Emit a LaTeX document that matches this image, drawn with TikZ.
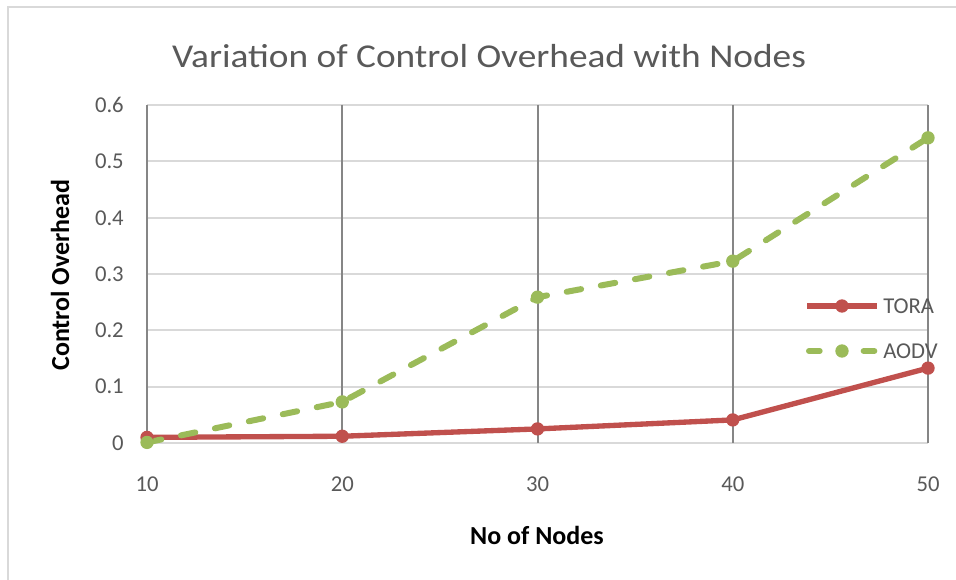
\documentclass[tikz,border=0pt]{standalone}
\usepackage{fontspec}
\setmainfont{Carlito}
\usepackage{tikz}
\definecolor{tora}{RGB}{192, 80, 77}
\definecolor{aodv}{RGB}{155, 187, 89}
\definecolor{grid}{RGB}{217, 217, 217}
\definecolor{vgrid}{RGB}{134, 134, 134}
\definecolor{textgray}{RGB}{89, 89, 89}

\tikzset{
  tick/.style={text=textgray, font=\fontsize{17}{20}\selectfont, inner sep=0},
  axistitle/.style={text=black, font=\fontsize{19.5}{23}\selectfont\bfseries, inner sep=0},
  dot/.style={circle, inner sep=0, minimum size=10},
  toraline/.style={tora, line width=4, line join=round},
  aodvline/.style={aodv, line width=4.5, dash pattern=on 11pt off 15pt, line cap=round, line join=round}
}

\begin{document}
\begin{tikzpicture}[x=0.75pt, y=-0.75pt]
  \useasboundingbox (0, 0) rectangle (956, 580);
  \draw[grid, line width=1.5] (8, 580) -- (8, 7) -- (956, 7);

  \node[text=textgray, anchor=base, inner sep=0, transform shape, xscale=1.12, font=\fontsize{25}{30}\selectfont] (title) at (489, 68) {Variation of Control Overhead with Nodes};

  % gridlines and tick labels
  \foreach \n/\t in {0/0, 1/0.1, 2/0.2, 3/0.3, 4/0.4, 5/0.5, 6/0.6} {
    \pgfmathsetmacro{\y}{443 - 56.3*\n};
    \draw[grid, line width=1.5] (147, \y) -- (928, \y);
    \node[tick, anchor=east] (ytick\n) at (124, \y) { \t };
  }
  \foreach \n in {1, 2, ..., 5} {
    \pgfmathsetmacro{\x}{147 + 195.25*(\n - 1)};
    \draw[vgrid, line width=1.5] (\x, 105) -- (\x, 443);
    \node[tick] (xtick\n) at (\x, 484) { \n0 };
  }

  % data
  \foreach \n/\v in {1/0.010, 2/0.012, 3/0.025, 4/0.041, 5/0.133}
    \coordinate (t\n) at ({147 + 195.25*(\n - 1)}, {443 - 563*\v});
  \foreach \n/\v in {1/0.001, 2/0.073, 3/0.259, 4/0.323, 5/0.542}
    \coordinate (a\n) at ({147 + 195.25*(\n - 1)}, {443 - 563*\v});

  \draw[toraline] (t1) -- (t2) -- (t3) -- (t4) -- (t5);
  \draw[aodvline] (a1) -- (a2) -- (a3) -- (a4) -- (a5);

  \foreach \n in {1, 2, ..., 5} {
    \node[dot, fill=tora] (tm\n) at (t\n) {};
    \node[dot, fill=aodv] (am\n) at (a\n) {};
  }

  % legend
  \coordinate (tl1) at (807, 306);
  \coordinate (tl2) at (877, 306);
  \coordinate (al1) at (809, 351);
  \coordinate (al2) at (877, 351);
  \draw[toraline] (tl1) -- (tl2);
  \draw[aodvline, dash pattern=on 8pt off 33pt] (al1) -- (al2);
  \node[dot, fill=aodv] (alm) at (842, 351) {};
  \node[dot, fill=tora] (tlm) at (842, 306) {};
  \node[tick, anchor=west] (toralbl) at (883, 306) { TORA };
  \node[tick, anchor=west] (aodvlbl) at (883, 351) { AODV };

  \node[axistitle] (xtitle) at (537, 535) { No of Nodes };
  \node[axistitle, rotate=90] (ytitle) at (60, 275) { Control Overhead };
\end{tikzpicture}
\end{document}
